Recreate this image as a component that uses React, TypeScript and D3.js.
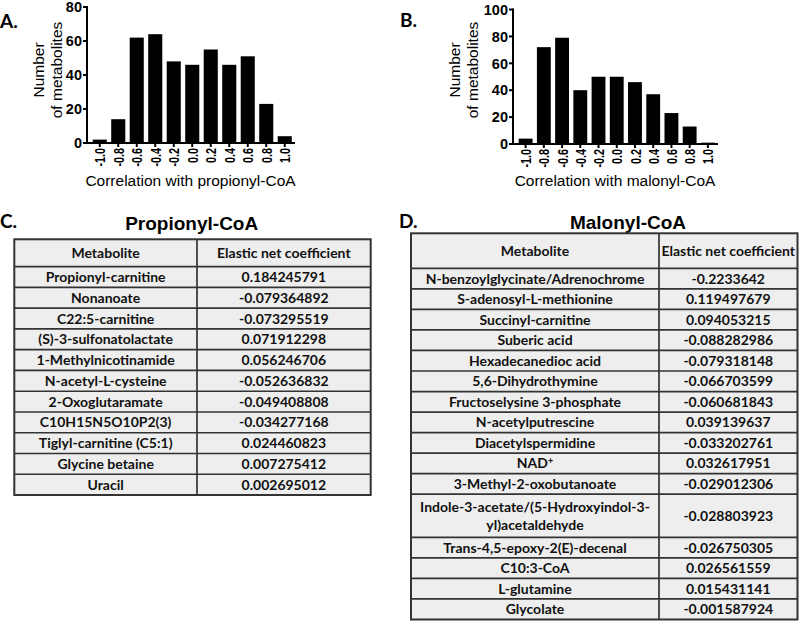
import React from "react";
import * as d3 from "d3";

// ---------- histogram data ----------
const binLabels = ["-1.0", "-0.8", "-0.6", "-0.4", "-0.2", "0.0", "0.2", "0.4", "0.6", "0.8", "1.0"];
const propionylCounts = [2, 14, 62, 64, 48, 46, 55, 46, 51, 23, 4];
const malonylCounts = [4, 72, 79, 40, 50, 50, 46, 37, 23, 13, 1];
const propionylTicks = [0, 20, 40, 60, 80];
const malonylTicks = [0, 20, 40, 60, 80, 100];

// ---------- table data ----------
const propionylMetabolites = [
  "Propionyl-carnitine",
  "Nonanoate",
  "C22:5-carnitine",
  "(S)-3-sulfonatolactate",
  "1-Methylnicotinamide",
  "N-acetyl-L-cysteine",
  "2-Oxoglutaramate",
  "C10H15N5O10P2(3)",
  "Tiglyl-carnitine (C5:1)",
  "Glycine betaine",
  "Uracil",
];
const propionylCoefficients = [
  "0.184245791",
  "-0.079364892",
  "-0.073295519",
  "0.071912298",
  "0.056246706",
  "-0.052636832",
  "-0.049408808",
  "-0.034277168",
  "0.024460823",
  "0.007275412",
  "0.002695012",
];
const malonylMetabolites = [
  "N-benzoylglycinate/Adrenochrome",
  "S-adenosyl-L-methionine",
  "Succinyl-carnitine",
  "Suberic acid",
  "Hexadecanedioc acid",
  "5,6-Dihydrothymine",
  "Fructoselysine 3-phosphate",
  "N-acetylputrescine",
  "Diacetylspermidine",
  "NAD^+",
  "3-Methyl-2-oxobutanoate",
  "Indole-3-acetate/(5-Hydroxyindol-3-\nyl)acetaldehyde",
  "Trans-4,5-epoxy-2(E)-decenal",
  "C10:3-CoA",
  "L-glutamine",
  "Glycolate",
];
const malonylCoefficients = [
  "-0.2233642",
  "0.119497679",
  "0.094053215",
  "-0.088282986",
  "-0.079318148",
  "-0.066703599",
  "-0.060681843",
  "0.039139637",
  "-0.033202761",
  "0.032617951",
  "-0.029012306",
  "-0.028803923",
  "-0.026750305",
  "0.026561559",
  "0.015431141",
  "-0.001587924",
];

const ARIAL = "'Liberation Sans', Arial, sans-serif";
const LATO = "Lato, 'Open Sans', sans-serif";

type HistProps = {
  counts: number[];
  ticks: number[];
  axisX: number;
  xEnd: number;
  y0: number;
  yTop: number;
  xTitle: string;
  labelX: number;
};

function Histogram({ counts, ticks, axisX, xEnd, y0, yTop, xTitle, labelX }: HistProps) {
  const yMax = ticks[ticks.length - 1];
  const x = d3.scaleBand<string>().domain(binLabels).range([axisX + 3.5, xEnd]).paddingInner(0.24).paddingOuter(0.12);
  const y = d3.scaleLinear().domain([0, yMax]).range([y0, yTop]);
  const midY = 70;
  return (
    <g>
      {counts.map((c, i) => (
        <rect
          key={i}
          x={x(binLabels[i])}
          y={y(c)}
          width={x.bandwidth()}
          height={y0 - y(c)}
          fill="#000"
        />
      ))}
      {/* y axis */}
      <line x1={axisX} x2={axisX} y1={y0 + 1} y2={y(yMax) - 1} stroke="#000" strokeWidth={2} />
      {ticks.map((t) => (
        <g key={t}>
          <line x1={axisX - 4} x2={axisX} y1={y(t)} y2={y(t)} stroke="#000" strokeWidth={2} />
          <text
            x={axisX - 5}
            y={y(t)}
            dy="0.36em"
            textAnchor="end"
            fontFamily={ARIAL}
            fontWeight="bold"
            fontSize={14.5}
          >
            {t}
          </text>
        </g>
      ))}
      {/* x axis */}
      <line x1={axisX - 1} x2={xEnd + 1} y1={y0} y2={y0} stroke="#000" strokeWidth={2} />
      {binLabels.map((l) => {
        const cx = (x(l) as number) + x.bandwidth() / 2;
        return (
          <g key={l}>
            <line x1={cx} x2={cx} y1={y0} y2={y0 + 4} stroke="#000" strokeWidth={2} />
            <text
              transform={`translate(${cx},${y0 + 5}) rotate(-90) scale(0.72,1)`}
              dy="0.37em"
              textAnchor="end"
              fontFamily={ARIAL}
              fontWeight="bold"
              fontSize={15}
            >
              {l}
            </text>
          </g>
        );
      })}
      <text
        x={(axisX + xEnd) / 2}
        y={186}
        textAnchor="middle"
        fontFamily={ARIAL}
        fontSize={15.5}
      >
        {xTitle}
      </text>
      <text
        transform={`translate(${labelX},${midY}) rotate(-90)`}
        textAnchor="middle"
        fontFamily={ARIAL}
        fontSize={15.5}
      >
        <tspan x={0} dy="0.36em">Number</tspan>
        <tspan x={0} dy={18}>of metabolites</tspan>
      </text>
    </g>
  );
}

type TableProps = {
  names: string[];
  values: string[];
  x0: number;
  xDiv: number;
  x1: number;
  yTop: number;
  headerBottom: number;
  yBottom: number;
};

function renderName(name: string, cx: number, cy: number) {
  const lines = name.split("\n");
  const lh = 18.4;
  return (
    <text textAnchor="middle" fontFamily={LATO} fontWeight="bold" fontSize={14} fill="#111">
      {lines.map((ln, i) => {
        const yy = cy + (i - (lines.length - 1) / 2) * lh;
        if (ln.includes("^")) {
          const [base, sup] = ln.split("^");
          return (
            <tspan key={i} x={cx} y={yy} dy="0.36em">
              {base}
              <tspan fontSize={9} dy="-0.55em">{sup}</tspan>
            </tspan>
          );
        }
        return (
          <tspan key={i} x={cx} y={yy} dy="0.36em">
            {ln}
          </tspan>
        );
      })}
    </text>
  );
}

function Table({ names, values, x0, xDiv, x1, yTop, headerBottom, yBottom }: TableProps) {
  const weights = names.map((n) => (n.includes("\n") ? 2.1 : 1));
  const cum = [0, ...Array.from(d3.cumsum(weights))];
  const ry = d3.scaleLinear().domain([0, cum[cum.length - 1]]).range([headerBottom, yBottom]);
  const stroke = "#333";
  return (
    <g>
      <rect x={x0} y={yTop} width={x1 - x0} height={yBottom - yTop} fill="#eeeeee" />
      {/* header */}
      <text
        x={(x0 + xDiv) / 2}
        y={(yTop + headerBottom) / 2}
        dy="0.36em"
        textAnchor="middle"
        fontFamily={LATO}
        fontWeight="bold"
        fontSize={14}
        fill="#111"
      >
        Metabolite
      </text>
      <text
        x={(xDiv + x1) / 2}
        y={(yTop + headerBottom) / 2}
        dy="0.36em"
        textAnchor="middle"
        fontFamily={LATO}
        fontWeight="bold"
        fontSize={14}
        fill="#111"
      >
        Elastic net coefficient
      </text>
      {names.map((n, i) => {
        const cy = (ry(cum[i]) + ry(cum[i + 1])) / 2;
        return (
          <g key={i}>
            {renderName(n, (x0 + xDiv) / 2, cy)}
            <text
              x={(xDiv + x1) / 2}
              y={cy}
              dy="0.36em"
              textAnchor="middle"
              fontFamily={LATO}
              fontWeight="bold"
              fontSize={14}
              fill="#111"
            >
              {values[i]}
            </text>
          </g>
        );
      })}
      {/* horizontal lines */}
      <line x1={x0} x2={x1} y1={headerBottom} y2={headerBottom} stroke={stroke} strokeWidth={1.7} />
      {cum.slice(1, -1).map((c, i) => (
        <line key={i} x1={x0} x2={x1} y1={ry(c)} y2={ry(c)} stroke={stroke} strokeWidth={1.7} />
      ))}
      <line x1={xDiv} x2={xDiv} y1={yTop} y2={yBottom} stroke={stroke} strokeWidth={1.7} />
      <rect x={x0} y={yTop} width={x1 - x0} height={yBottom - yTop} fill="none" stroke={stroke} strokeWidth={2} />
    </g>
  );
}

export default function App() {
  return (
    <svg
      width={800}
      height={621}
      viewBox="0 0 800 621"
      style={{ position: "absolute", left: 0, top: 0, background: "#fff" }}
    >
      <rect x={0} y={0} width={800} height={621} fill="#fff" />
      {/* panel labels */}
      <text x={0} y={28} fontFamily={LATO} fontWeight="bold" fontSize={19}>A.</text>
      <text x={400} y={27} fontFamily={LATO} fontWeight="bold" fontSize={19}>B.</text>
      <text x={0} y={228} fontFamily={LATO} fontWeight="bold" fontSize={19}>C.</text>
      <text x={399} y={228} fontFamily={LATO} fontWeight="bold" fontSize={19}>D.</text>

      <Histogram
        counts={propionylCounts}
        ticks={propionylTicks}
        axisX={87}
        xEnd={294}
        y0={143}
        yTop={7}
        xTitle="Correlation with propionyl-CoA"
        labelX={38}
      />
      <Histogram
        counts={malonylCounts}
        ticks={malonylTicks}
        axisX={513}
        xEnd={717}
        y0={144}
        yTop={9.5}
        xTitle="Correlation with malonyl-CoA"
        labelX={454}
      />

      <text x={191.7} y={230} textAnchor="middle" fontFamily={ARIAL} fontWeight="bold" fontSize={19}>
        Propionyl-CoA
      </text>
      <text x={628} y={229} textAnchor="middle" fontFamily={ARIAL} fontWeight="bold" fontSize={19}>
        Malonyl-CoA
      </text>

      <Table
        names={propionylMetabolites}
        values={propionylCoefficients}
        x0={14.3}
        xDiv={197}
        x1={370.7}
        yTop={239.3}
        headerBottom={266.7}
        yBottom={495}
      />
      <Table
        names={malonylMetabolites}
        values={malonylCoefficients}
        x0={411}
        xDiv={659}
        x1={797.5}
        yTop={233.3}
        headerBottom={268.3}
        yBottom={619.5}
      />
    </svg>
  );
}
